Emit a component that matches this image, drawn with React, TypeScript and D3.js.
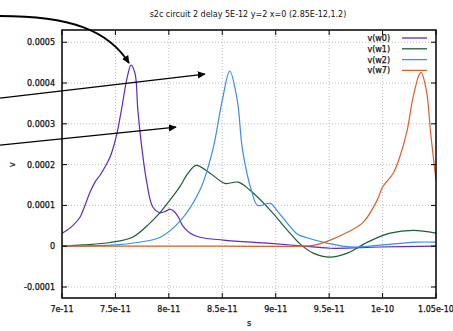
import React from "react";
import * as d3 from "d3";

// time in units of 1e-11 s, voltage in units of 1e-4
const w0T = [7.0, 7.047, 7.103, 7.168, 7.215, 7.262, 7.309, 7.356, 7.402, 7.449, 7.487, 7.515, 7.56, 7.61, 7.646, 7.683, 7.71, 7.75, 7.795, 7.85, 7.917, 7.97, 8.01, 8.05, 8.09, 8.13, 8.2, 8.29, 8.51, 8.95, 9.23, 9.51, 9.98, 10.5];
const w0V = [0.32, 0.39, 0.51, 0.71, 1.0, 1.32, 1.57, 1.74, 1.94, 2.18, 2.48, 2.77, 3.4, 4.14, 4.44, 4.24, 3.33, 2.35, 1.54, 0.96, 0.82, 0.86, 0.91, 0.85, 0.71, 0.5, 0.32, 0.22, 0.15, 0.07, 0.01, -0.05, -0.02, 0.0];

const w1T = [7.0, 7.2, 7.45, 7.66, 7.82, 7.92, 8.01, 8.1, 8.18, 8.255, 8.385, 8.525, 8.65, 8.76, 8.95, 9.11, 9.23, 9.35, 9.51, 9.67, 9.86, 10.07, 10.29, 10.5];
const w1V = [0.0, 0.03, 0.09, 0.22, 0.56, 0.83, 1.13, 1.45, 1.79, 1.98, 1.79, 1.54, 1.57, 1.37, 0.88, 0.39, 0.05, -0.17, -0.27, -0.17, 0.1, 0.32, 0.39, 0.32];

const w2T = [7.0, 7.5, 7.7, 7.92, 8.1, 8.29, 8.41, 8.5, 8.57, 8.64, 8.69, 8.78, 8.83, 8.95, 9.01, 9.11, 9.2, 9.3, 9.49, 9.71, 9.95, 10.17, 10.32, 10.5];
const w2V = [0.0, 0.03, 0.09, 0.22, 0.6, 1.37, 2.35, 3.58, 4.29, 3.58, 2.35, 1.3, 1.0, 1.05, 0.88, 0.56, 0.3, 0.2, 0.07, -0.02, 0.02, 0.07, 0.1, 0.1];

const w7T = [7.0, 8.5, 9.23, 9.35, 9.51, 9.67, 9.82, 9.95, 10.0, 10.1, 10.16, 10.23, 10.28, 10.34, 10.36, 10.41, 10.45, 10.5];
const w7V = [0.0, 0.0, 0.0, 0.02, 0.15, 0.34, 0.59, 1.13, 1.45, 1.79, 2.18, 2.84, 3.58, 4.19, 4.26, 3.82, 2.77, 1.62];

const seriesNames = ["v(w0)", "v(w1)", "v(w2)", "v(w7)"];
const seriesColors = ["#5b2bc9", "#1b5e34", "#3a8fe6", "#df5f26"];

const xTicks = [7, 7.5, 8, 8.5, 9, 9.5, 10, 10.5];
const xTickLabels = ["7e-11", "7.5e-11", "8e-11", "8.5e-11", "9e-11", "9.5e-11", "1e-10", "1.05e-10"];
const yTicks = [-1, 0, 1, 2, 3, 4, 5];
const yTickLabels = ["-0.0001", "0", "0.0001", "0.0002", "0.0003", "0.0004", "0.0005"];

const title = "s2c circuit 2 delay 5E-12 y=2 x=0 (2.85E-12,1.2)";

// annotation arrows in data units: [startT, startV, endT, endV]
const arrowStraight = [
  [6.42, 3.63, 8.338, 4.22],
  [6.42, 2.48, 8.067, 2.92],
];

export default function App() {
  const W = 453, H = 331;
  const m = { l: 62, r: 436, t: 30, b: 298 };
  const x = d3.scaleLinear().domain([7, 10.5]).range([m.l, m.r]);
  const y = d3.scaleLinear().domain([-1.27, 5.3]).range([m.b, m.t]);
  const line = d3.line<[number, number]>().x(d => x(d[0])).y(d => y(d[1])).curve(d3.curveCatmullRom.alpha(0.5));
  const all = [[w0T, w0V], [w1T, w1V], [w2T, w2V], [w7T, w7V]].map(([t, v]) => t.map((tt, i) => [tt, v[i]] as [number, number]));
  const font = "DejaVu Sans, sans-serif";
  const tickLen = 5;

  const cStart: [number, number] = [0, 16];
  const cEnd: [number, number] = [x(7.627), y(4.49)];
  const curvePath = `M${cStart[0]},${cStart[1]} C70,16 108,30 ${cEnd[0]},${cEnd[1]}`;

  return (
    <svg width={W} height={H} style={{ position: "absolute", left: 0, top: 0, background: "#fff" }} fontFamily={font}>
      <defs>
        <marker id="ah" viewBox="0 0 10 10" refX="9" refY="5" markerWidth="8" markerHeight="8" markerUnits="userSpaceOnUse" orient="auto">
          <path d="M0,0.5 L10,5 L0,9.5 z" fill="#000" />
        </marker>
        <clipPath id="plot">
          <rect x={m.l} y={m.t} width={m.r - m.l} height={m.b - m.t} />
        </clipPath>
      </defs>
      <rect x={0} y={0} width={W} height={H} fill="#fff" />
      {xTicks.slice(1, -1).map(t => (
        <line key={"gx" + t} x1={x(t)} x2={x(t)} y1={m.t} y2={m.b} stroke="#bbb" strokeWidth={1} strokeDasharray="1,2" />
      ))}
      {yTicks.map(v => (
        <line key={"gy" + v} x1={m.l} x2={m.r} y1={y(v)} y2={y(v)} stroke="#bbb" strokeWidth={1} strokeDasharray="1,2" />
      ))}
      <g clipPath="url(#plot)">
        {all.map((d, i) => (
          <path key={i} d={line(d) || ""} fill="none" stroke={seriesColors[i]} strokeWidth={1.2} />
        ))}
      </g>
      <rect x={m.l} y={m.t} width={m.r - m.l} height={m.b - m.t} fill="none" stroke="#000" strokeWidth={1.5} />
      {xTicks.map(t => (
        <g key={"tx" + t}>
          <line x1={x(t)} x2={x(t)} y1={m.b} y2={m.b - tickLen} stroke="#000" strokeWidth={1} />
          <line x1={x(t)} x2={x(t)} y1={m.t} y2={m.t + tickLen} stroke="#000" strokeWidth={1} />
        </g>
      ))}
      {yTicks.map(v => (
        <g key={"ty" + v}>
          <line x1={m.l} x2={m.l + tickLen} y1={y(v)} y2={y(v)} stroke="#000" strokeWidth={1} />
          <line x1={m.r} x2={m.r - tickLen} y1={y(v)} y2={y(v)} stroke="#000" strokeWidth={1} />
        </g>
      ))}
      {xTicks.map((t, i) => (
        <text key={"lx" + t} x={x(t)} y={m.b + 14} fontSize={8} textAnchor="middle" fill="#111" stroke="#111" strokeWidth={0.25}>{xTickLabels[i]}</text>
      ))}
      {yTicks.map((v, i) => (
        <text key={"ly" + v} x={m.l - 7} y={y(v) + 3} fontSize={8} textAnchor="end" fill="#111" stroke="#111" strokeWidth={0.25}>{yTickLabels[i]}</text>
      ))}
      <text x={249} y={326} fontSize={8} textAnchor="middle" fill="#111" stroke="#111" strokeWidth={0.25}>s</text>
      <text transform={`translate(15,${y(2)}) rotate(-90)`} fontSize={8} textAnchor="middle" fill="#111" stroke="#111" strokeWidth={0.25}>v</text>
      <text x={248} y={17} fontSize={8} textAnchor="middle" fill="#111">{title}</text>
      {seriesNames.map((n, i) => (
        <g key={n}>
          <text x={390} y={41 + i * 10.8} fontSize={8} textAnchor="end" fill="#111" stroke="#111" strokeWidth={0.25}>{n}</text>
          <line x1={402} x2={427} y1={38 + i * 10.8} y2={38 + i * 10.8} stroke={seriesColors[i]} strokeWidth={1.3} />
        </g>
      ))}
      <path d={curvePath} fill="none" stroke="#000" strokeWidth={1.8} markerEnd="url(#ah)" />
      {arrowStraight.map((a, i) => (
        <line key={"ar" + i} x1={x(a[0])} y1={y(a[1])} x2={x(a[2])} y2={y(a[3])} stroke="#000" strokeWidth={1.2} markerEnd="url(#ah)" />
      ))}
    </svg>
  );
}
